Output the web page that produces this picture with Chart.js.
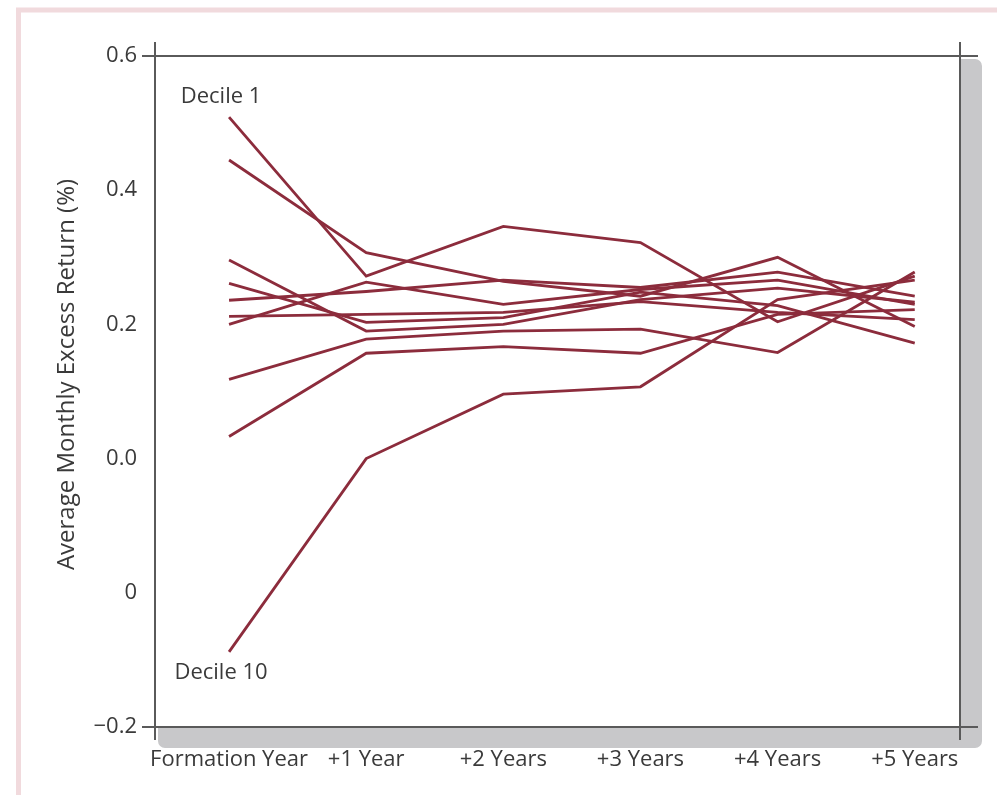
<!DOCTYPE html>
<html>
<head>
<meta charset="utf-8">
<script src="https://cdn.jsdelivr.net/npm/chart.js@4.4.1/dist/chart.umd.min.js"></script>
<style>
    html, body { margin: 0; padding: 0; background: #fff; }
    #returnsChart { display: block; }
</style>
</head>
<body>
<canvas id="returnsChart" width="997" height="795"></canvas>
<script>
const periods = ["Formation Year", "+1 Year", "+2 Years", "+3 Years", "+4 Years", "+5 Years"]

// y tick values and the labels the original figure prints for them
const yTickValues = [-0.4, -0.2, 0, 0.2, 0.4, 0.6]
const yTickLabels = ["\u22120.2", "0", "0.0", "0.2", "0.4", "0.6"]

const decile1 = [0.509, 0.272, 0.346, 0.322, 0.204, 0.272]
const decile2 = [0.445, 0.307, 0.264, 0.242, 0.300, 0.197]
const decile3 = [0.296, 0.190, 0.200, 0.237, 0.254, 0.233]
const decile4 = [0.261, 0.203, 0.210, 0.248, 0.228, 0.172]
const decile5 = [0.236, 0.249, 0.266, 0.255, 0.278, 0.242]
const decile6 = [0.212, 0.215, 0.218, 0.234, 0.218, 0.207]
const decile7 = [0.200, 0.263, 0.230, 0.252, 0.266, 0.230]
const decile8 = [0.118, 0.178, 0.190, 0.193, 0.158, 0.278]
const decile9 = [0.033, 0.157, 0.167, 0.157, 0.215, 0.222]
const decile10 = [-0.288, 0.000, 0.096, 0.107, 0.237, 0.266]

const deciles = [decile1, decile2, decile3, decile4, decile5, decile6, decile7, decile8, decile9, decile10]

const lineColor = "#8c2c3c"
const textColor = "#3a3a3a"
const fontFamily = "'Open Sans', 'DejaVu Sans', sans-serif"

const framePlugin = {
    id: "frame",
    beforeDraw(chart) {
        const {ctx, chartArea: a} = chart
        ctx.save()
        // pink page border
        ctx.strokeStyle = "#f1dadd"
        ctx.lineWidth = 5
        ctx.strokeRect(18.5, 10, 1100, 1000)
        // drop shadow of the plot box
        ctx.fillStyle = "#c8c8ca"
        ctx.beginPath()
        ctx.roundRect(a.left + 3, a.top + 3, a.right - a.left + 19, a.bottom - a.top + 18, 7)
        ctx.fill()
        ctx.fillStyle = "#fff"
        ctx.fillRect(a.left, a.top, a.right - a.left, a.bottom - a.top)
        // box with overhanging corners
        ctx.strokeStyle = "#5a5a5a"
        ctx.lineWidth = 2
        ctx.beginPath()
        ctx.moveTo(a.left - 13, a.top); ctx.lineTo(a.right + 18, a.top)
        ctx.moveTo(a.left - 13, a.bottom); ctx.lineTo(a.right + 18, a.bottom)
        ctx.moveTo(a.left, a.top - 14); ctx.lineTo(a.left, a.bottom + 13)
        ctx.moveTo(a.right, a.top - 14); ctx.lineTo(a.right, a.bottom + 13)
        ctx.stroke()
        // y axis title
        ctx.fillStyle = textColor
        ctx.font = "24px " + fontFamily
        ctx.textAlign = "center"
        ctx.textBaseline = "middle"
        ctx.translate(67, (a.top + a.bottom) / 2 - 17)
        ctx.rotate(-Math.PI / 2)
        ctx.fillText("Average Monthly Excess Return (%)", 0, 0)
        ctx.restore()
    },
    afterDatasetsDraw(chart) {
        const {ctx, scales: {x, y}} = chart
        ctx.save()
        ctx.fillStyle = textColor
        ctx.font = "22px " + fontFamily
        ctx.textAlign = "center"
        ctx.textBaseline = "middle"
        ctx.fillText("Decile 1", x.getPixelForValue(0) - 8, y.getPixelForValue(decile1[0]) - 20)
        ctx.fillText("Decile 10", x.getPixelForValue(0) - 8, y.getPixelForValue(decile10[0]) + 21)
        ctx.restore()
    }
}

const ctx = document.getElementById("returnsChart")
const myChart = new Chart(ctx, {
    type: "line",
    data: {
        datasets: deciles.map((vals, i) => ({
            label: "Decile " + (i + 1),
            data: vals.map((v, j) => ({x: j, y: v})),
            borderColor: lineColor,
            borderWidth: 2.8,
            pointRadius: 0,
            tension: 0,
            fill: false,
        }))
    },
    options: {
        responsive: false,
        animation: false,
        layout: {
            padding: {left: 0, top: 56, right: 37, bottom: 0}
        },
        plugins: {
            legend: {display: false},
            tooltip: {enabled: false},
        },
        scales: {
            x: {
                type: "linear",
                min: -0.54,
                max: 5.33,
                grid: {display: false, drawTicks: false},
                border: {display: false},
                afterBuildTicks: s => { s.ticks = periods.map((_, i) => ({value: i})) },
                afterFit: s => { s.height = 68 },
                ticks: {
                    padding: 20,
                    color: textColor,
                    font: {size: 22, family: fontFamily},
                    maxRotation: 0,
                    autoSkip: false,
                    callback: v => periods[v],
                },
            },
            y: {
                type: "linear",
                min: -0.4,
                max: 0.6,
                grid: {display: false, drawTicks: false},
                border: {display: false},
                afterBuildTicks: s => { s.ticks = yTickValues.map(v => ({value: v})) },
                afterFit: s => { s.width = 155 },
                ticks: {
                    padding: 18,
                    color: textColor,
                    font: {size: 22, family: fontFamily},
                    callback: v => yTickLabels[yTickValues.findIndex(t => Math.abs(t - v) < 1e-9)],
                },
            },
        },
    },
    plugins: [framePlugin],
})
</script>
</body>
</html>
